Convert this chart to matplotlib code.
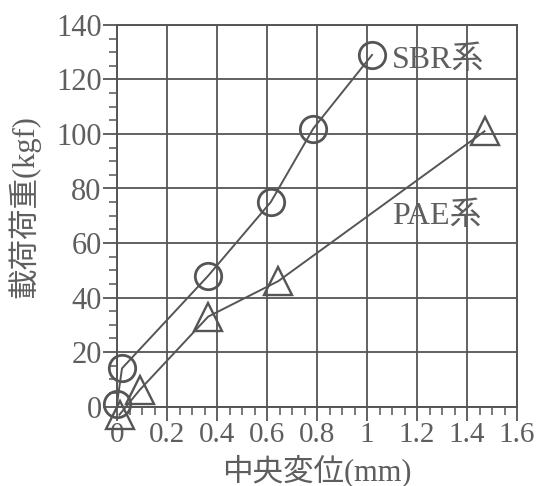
import numpy as np
import matplotlib
matplotlib.use("Agg")
import matplotlib.pyplot as plt
from matplotlib.ticker import MultipleLocator

# data
sbr_x = [0.0, 0.02, 0.365, 0.615, 0.785, 1.02]
sbr_y = [1, 14, 48, 75, 102, 129]
pae_x = [0.01, 0.09, 0.365, 0.645, 1.47]
pae_y = [-3, 6, 33, 46, 101]

x_ticks = [0, 0.2, 0.4, 0.6, 0.8, 1.0, 1.2, 1.4, 1.6]
x_labels = ["0", "0.2", "0.4", "0.6", "0.8", "1", "1.2", "1.4", "1.6"]
y_ticks = [0, 20, 40, 60, 80, 100, 120, 140]
y_labels = [str(v) for v in y_ticks]

x_title = "中央変位(mm)"
y_title = "載荷荷重(kgf)"
series_names = ["SBR系", "PAE系"]

ink = "#555555"
txt = "#5e5e5e"
fonts = ["Liberation Serif", "Noto Sans CJK JP", "DejaVu Sans"]
plt.rcParams["font.family"] = fonts

fig = plt.figure(figsize=(5.39, 4.86), dpi=100)
ax = fig.add_axes([117 / 539, 1 - 406.5 / 486, 400 / 539, 381.5 / 486])

ax.set_xlim(0, 1.6)
ax.set_ylim(0, 140)

# grid on major ticks only
ax.grid(True, which="major", color=ink, linewidth=1.3)
ax.set_axisbelow(True)

ax.plot(sbr_x, sbr_y, color=ink, linewidth=1.4, marker="o", markersize=19,
        markerfacecolor="none", markeredgecolor=ink, markeredgewidth=2.0,
        clip_on=False, zorder=3)
ax.plot(pae_x, pae_y, color=ink, linewidth=1.4, marker="^", markersize=20,
        markerfacecolor="none", markeredgecolor=ink, markeredgewidth=1.7,
        clip_on=False, zorder=3)

ax.text(1.10, 127, series_names[0], fontsize=23, color=txt, va="center", ha="left")
ax.text(1.10, 70, series_names[1], fontsize=23, color=txt, va="center", ha="left")

ax.set_xticks(x_ticks)
ax.set_xticklabels(x_labels)
ax.set_yticks(y_ticks)
ax.set_yticklabels(y_labels)
ax.xaxis.set_minor_locator(MultipleLocator(0.05))
ax.yaxis.set_minor_locator(MultipleLocator(5))

ax.tick_params(which="major", direction="out", length=10, width=1.3, color=ink,
               labelcolor=txt, pad=1)
ax.tick_params(axis="y", which="major", labelsize=22)
ax.tick_params(axis="x", which="major", labelsize=21)
ax.tick_params(which="minor", direction="out", length=6, width=1.1, color=ink)

for s in ax.spines.values():
    s.set_color(ink)
    s.set_linewidth(1.4)

ax.set_xlabel(x_title, fontsize=22, color=txt, va="center")
ax.set_ylabel(y_title, fontsize=22, color=txt, va="center")
ax.xaxis.set_label_coords(0.5, -0.168)
ax.yaxis.set_label_coords(-0.232, 0.525)

fig.savefig("out.png", dpi=100, facecolor="white")
